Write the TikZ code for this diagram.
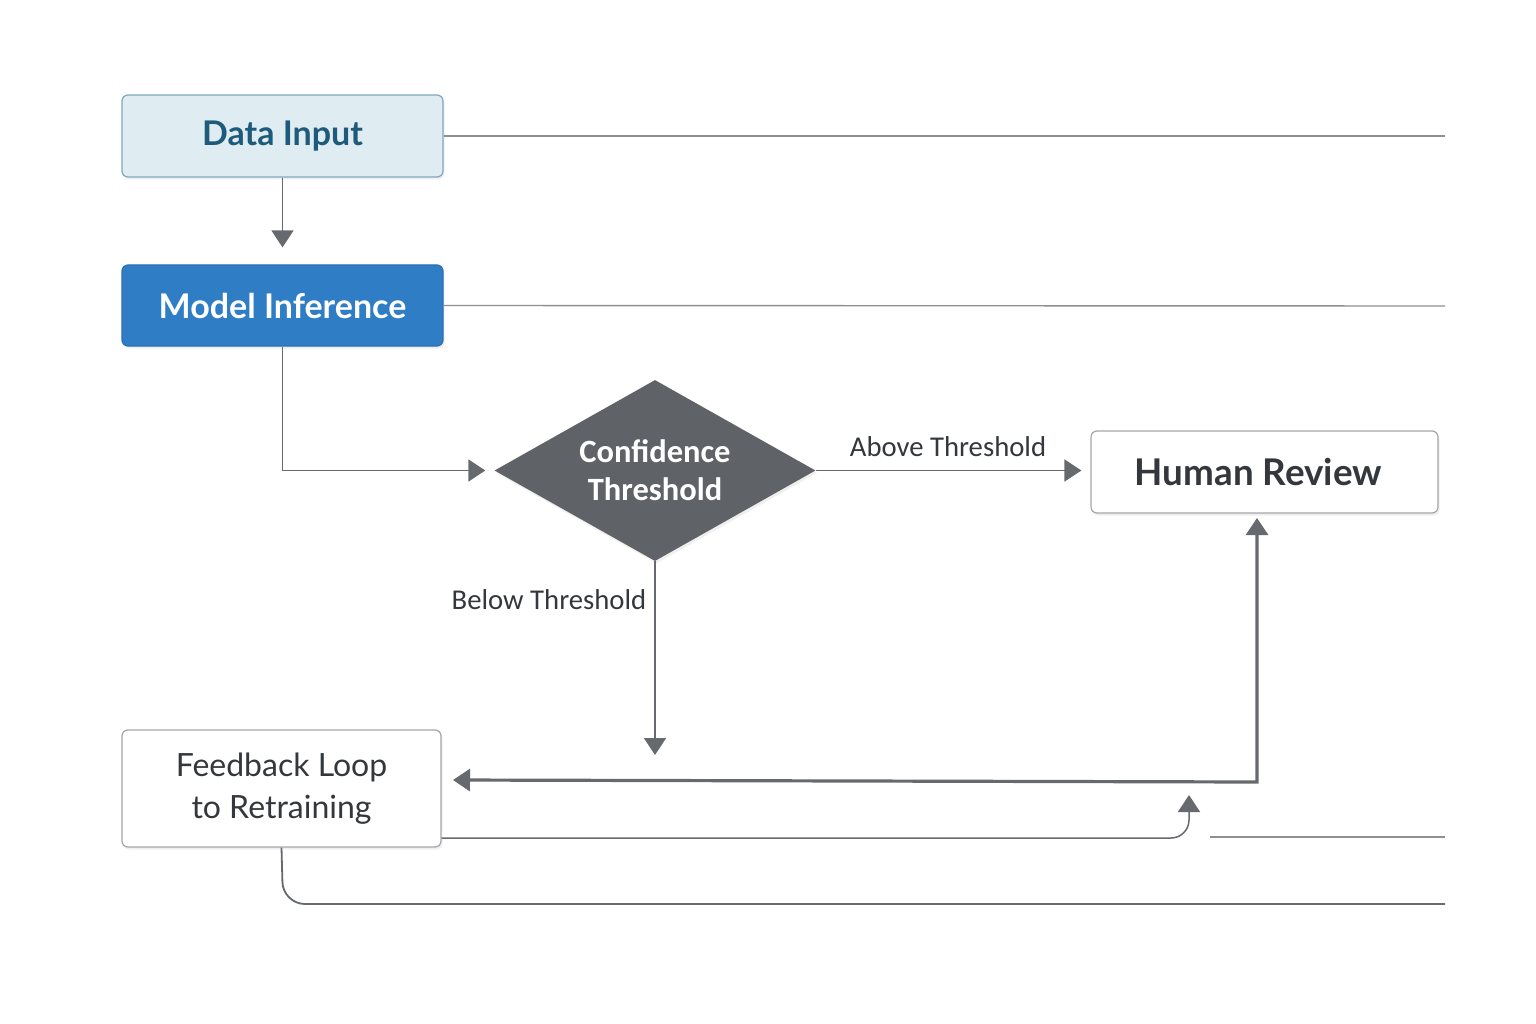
\documentclass[tikz,border=0pt]{standalone}
\usepackage{fontspec}
\setmainfont{Lato}
\newfontfamily\labelfont{Carlito}
\usetikzlibrary{arrows.meta,shapes.geometric,shadows}
\definecolor{inFill}{HTML}{DFECF2}
\definecolor{inDraw}{HTML}{7FA9C0}
\definecolor{inText}{HTML}{1E5A7A}
\definecolor{modFill}{HTML}{2F7DC5}
\definecolor{modDraw}{HTML}{2A70B2}
\definecolor{decFill}{HTML}{5F6267}
\definecolor{lineCol}{HTML}{66696E}
\definecolor{stubCol}{HTML}{8C8F93}
\definecolor{boxDraw}{HTML}{A3A7AB}
\definecolor{darkText}{HTML}{34383D}
\begin{document}
\begin{tikzpicture}[x=1pt,y=-1pt,
  box/.style={rectangle, rounded corners=6pt, line width=1.2pt, align=center, inner sep=0pt,
    drop shadow={opacity=0.12, shadow xshift=1.5pt, shadow yshift=-2.5pt}},
  conn/.style={draw=lineCol, line width=1.7pt, -{Triangle[width=22pt,length=17pt]}},
  thickconn/.style={draw=lineCol, line width=3.2pt},
  stub/.style={draw=stubCol, line width=1.4pt},
  lbl/.style={font=\labelfont\fontsize{28.7}{34}\selectfont, text=darkText, inner sep=0pt}
]
\useasboundingbox[fill=white] (0,0) rectangle (1536,1024);

\node[box, fill=inFill, draw=inDraw, minimum width=321pt, minimum height=82pt,
  font=\bfseries\fontsize{34}{40}\selectfont, text=inText] (input) at (282.5,136) {Data Input};
\node[box, fill=modFill, draw=modDraw, minimum width=321pt, minimum height=81pt,
  font=\bfseries\fontsize{34}{40}\selectfont, text=white] (model) at (282.5,305.5) {Model Inference};
\node[diamond, aspect=1.77, fill=decFill, inner sep=0pt, minimum width=321pt, minimum height=181pt,
  align=center, font=\labelfont\bfseries\fontsize{32.5}{38}\selectfont, text=white,
  drop shadow={opacity=0.12, shadow xshift=1.5pt, shadow yshift=-2.5pt}] (dec) at (655,470.5) {Confidence\\Threshold};
\node[box, fill=white, draw=boxDraw, minimum width=347pt, minimum height=82pt,
  font=\bfseries\fontsize{36.8}{42}\selectfont, text=darkText] (human) at (1264.5,472) {Human Review\hspace*{12pt}};
\node[box, fill=white, draw=boxDraw, minimum width=319pt, minimum height=117pt,
  font=\fontsize{32}{42}\selectfont, text=darkText] (fb) at (281.5,788.5) {Feedback Loop\\to Retraining};

% right stubs
\draw[stub] (input.east) -- (1445,136);
\draw[stub] (model.east) -- (1445,306);
\draw[stub] (1210,837) -- (1445,837);

% connectors
\draw[conn] (input.south) -- ([yshift=17pt]model.north);
\draw[conn] (model.south) |- ([xshift=-9pt]dec.west);
\draw[conn] (dec.east) -- ([xshift=-9pt]human.west |- dec.east);
\node[lbl] (above) at (948,447) {Above Threshold};
\coordinate (belowEnd) at (656,755);
\draw[conn] (dec.south) -- (dec.south |- belowEnd);
\node[lbl] (below) at (549,600) {Below Threshold};

\coordinate (fbIn) at (453,780);
\coordinate (hrIn) at (1257,518);
\draw[thickconn, {Triangle[width=22pt,length=17pt]}-{Triangle[width=22pt,length=17pt]}] (fbIn) -- (1257,782) -- (hrIn);

\coordinate (loopEnd) at (1189,795);
\draw[conn, line width=1.5pt, rounded corners=18pt] (fb.east |- 0,838) -- (1189,838) -- (loopEnd);

\coordinate (bottomEnd) at (1445,904);
\draw[draw=lineCol, line width=1.8pt, rounded corners=22pt] (fb.south) -- (283,904) -- (bottomEnd);
\end{tikzpicture}
\end{document}
